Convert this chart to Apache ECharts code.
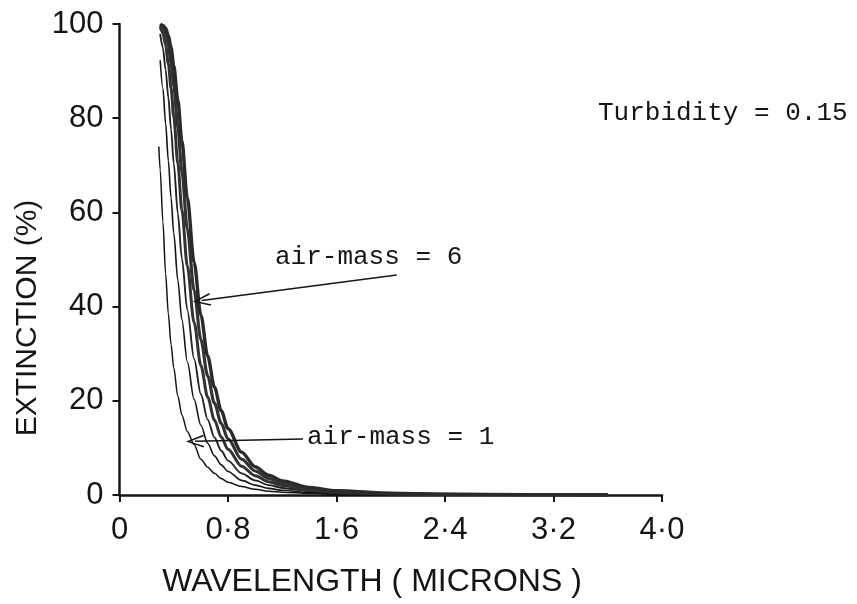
<!DOCTYPE html>
<html>
<head>
<meta charset="utf-8">
<script src="https://cdn.jsdelivr.net/npm/echarts@6/dist/echarts.min.js"></script>
<style>
html,body{margin:0;padding:0;background:#fff;}
#chart{width:857px;height:604px;}
</style>
</head>
<body>
<div id="chart"></div>
<script>
// Wavelength (microns)
const wavelengths = [0.29, 0.30, 0.32, 0.34, 0.36, 0.38, 0.40, 0.43, 0.46, 0.50, 0.55, 0.60, 0.65, 0.70, 0.75, 0.80, 0.90, 1.0, 1.1, 1.2, 1.4, 1.6, 2.0, 2.4, 3.0, 3.6];
// Extinction (%) for each air-mass
const airMass1 = [74, 69, 58, 47, 38.5, 32, 27, 21, 17, 13.5, 10.7, 7.6, 5.9, 4.6, 3.5, 2.7, 1.8, 1.2, 0.8, 0.6, 0.35, 0.2, 0.1, 0.05, 0.02, 0.01];
const airMass2 = [null, 92.3, 86.3, 78.9, 71.0, 63.1, 55.6, 45.6, 37.2, 28.3, 20.3, 14.8, 11.0, 8.3, 6.4, 5.0, 3.1, 2.1, 1.4, 1.0, 0.5, 0.3, 0.13, 0.06, 0.03, 0.01];
const airMass3 = [null, 97.9, 94.9, 90.3, 84.4, 77.6, 70.4, 59.8, 50.2, 39.3, 28.9, 21.4, 16.0, 12.2, 9.4, 7.3, 4.6, 3.1, 2.1, 1.5, 0.8, 0.5, 0.2, 0.09, 0.04, 0.02];
const airMass4 = [null, 99.4, 98.1, 95.5, 91.6, 86.4, 80.3, 70.4, 60.5, 48.6, 36.6, 27.5, 20.8, 15.9, 12.3, 9.7, 6.1, 4.1, 2.8, 2.0, 1.1, 0.6, 0.26, 0.12, 0.05, 0.02];
const airMass5 = [null, 99.8, 99.3, 98.0, 95.5, 91.7, 86.9, 78.1, 68.7, 56.5, 43.4, 33.0, 25.3, 19.5, 15.2, 11.9, 7.6, 5.1, 3.5, 2.5, 1.3, 0.8, 0.3, 0.15, 0.06, 0.03];
const airMass6 = [null, 100, 99.7, 99.1, 97.6, 95.0, 91.2, 83.9, 75.2, 63.1, 49.4, 38.2, 29.5, 22.9, 17.9, 14.1, 9.1, 6.0, 4.2, 3.0, 1.6, 0.9, 0.4, 0.18, 0.08, 0.04];
const xTickLabels = ['0', '0·8', '1·6', '2·4', '3·2', '4·0'];
const yTickLabels = ['0', '20', '40', '60', '80', '100'];
// Annotation arrows (tip, tail) in data units
const arrowAM6 = [[0.606, 41.3], [2.044, 46.7]];
const arrowAM1 = [[0.557, 11.4], [1.353, 11.9]];

const INK = '#151515';
const sansFont = 'Liberation Sans';
const monoFont = 'Liberation Mono';
const arrowPath = 'path://M5,0 L10,14 L8.8,14.6 L5,3.2 L1.2,14.6 L0,14 Z';

function pairs(vals) {
  const out = [];
  wavelengths.forEach((w, i) => { if (vals[i] !== null) out.push([w, vals[i]]); });
  return out;
}

function lineSeries(name, vals, width, color, extra) {
  return Object.assign({
    name: name,
    type: 'line',
    data: pairs(vals),
    showSymbol: false,
    smooth: 0.3,
    smoothMonotone: 'x',
    lineStyle: { color: color, width: width },
    silent: true,
    z: 3
  }, extra || {});
}

function arrowMark(a) {
  return {
    silent: true,
    symbol: [arrowPath, 'none'],
    symbolSize: [13, 18],
    lineStyle: { color: INK, width: 1.4, type: 'solid' },
    label: { show: false },
    animation: false,
    data: [[{ coord: a[0] }, { coord: a[1] }]]
  };
}

const chart = echarts.init(document.getElementById('chart'), null, { renderer: 'canvas' });
chart.setOption({
  animation: false,
  backgroundColor: '#fff',
  grid: { left: 119.5, right: 195, top: 24, bottom: 109, containLabel: false },
  xAxis: {
    type: 'value', min: 0, max: 4.0, interval: 0.8,
    axisLine: { show: true, lineStyle: { color: INK, width: 2.5 } },
    axisTick: { show: true, length: 7, lineStyle: { color: INK, width: 2 } },
    splitLine: { show: false },
    axisLabel: {
      margin: 20, color: INK, fontFamily: sansFont, fontSize: 31,
      formatter: function (v) { return xTickLabels[Math.round(v / 0.8)]; }
    }
  },
  yAxis: {
    type: 'value', min: 0, max: 100, interval: 20,
    axisLine: { show: true, lineStyle: { color: INK, width: 2.5 } },
    axisTick: { show: true, length: 7, lineStyle: { color: INK, width: 2 } },
    splitLine: { show: false },
    axisLabel: {
      margin: 16, color: INK, fontFamily: sansFont, fontSize: 31,
      formatter: function (v) { return yTickLabels[Math.round(v / 20)]; }
    }
  },
  series: [
    lineSeries('air-mass 1', airMass1, 1.5, INK, { markLine: arrowMark(arrowAM1) }),
    lineSeries('air-mass 2', airMass2, 1.6, INK),
    lineSeries('air-mass 3', airMass3, 1.9, '#222'),
    lineSeries('air-mass 4', airMass4, 3.0, '#333'),
    lineSeries('air-mass 5', airMass5, 3.2, '#333'),
    lineSeries('air-mass 6', airMass6, 3.4, '#2a2a2a', { markLine: arrowMark(arrowAM6) })
  ],
  graphic: [
    { type: 'text', left: 598, top: 100, style: { text: 'Turbidity = 0.15', font: '26px "' + monoFont + '"', fill: INK } },
    { type: 'text', left: 275, top: 244, style: { text: 'air-mass = 6', font: '26px "' + monoFont + '"', fill: INK } },
    { type: 'text', left: 307, top: 424, style: { text: 'air-mass = 1', font: '26px "' + monoFont + '"', fill: INK } },
    { type: 'text', x: 372, y: 582, style: { text: 'WAVELENGTH ( MICRONS )', font: '32px "' + sansFont + '"', fill: INK, textAlign: 'center', textVerticalAlign: 'middle' } },
    { type: 'text', x: 28, y: 318, rotation: Math.PI / 2, style: { text: 'EXTINCTION (%)', font: '30px "' + sansFont + '"', fill: INK, textAlign: 'center', textVerticalAlign: 'middle' } }
  ]
});
</script>
</body>
</html>
